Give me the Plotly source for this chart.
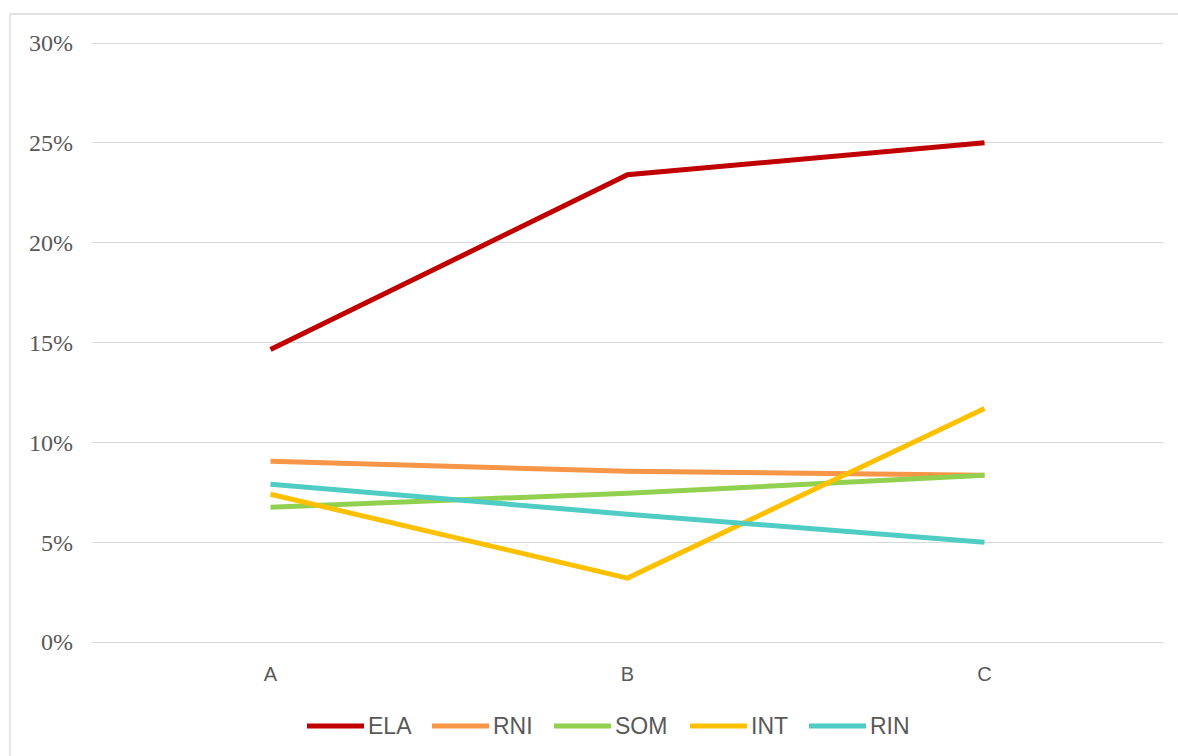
import plotly.graph_objects as go

# Categories and series (shares, in percent)
categories = ["A", "B", "C"]
series_names = ["ELA", "RNI", "SOM", "INT", "RIN"]
ela = [14.65, 23.4, 25.0]
rni = [9.05, 8.55, 8.35]
som = [6.75, 7.45, 8.35]
int_ = [7.4, 3.2, 11.7]
rin = [7.9, 6.4, 5.0]
y_ticks = [0, 5, 10, 15, 20, 25, 30]

series_values = [ela, rni, som, int_, rin]
colors = ["#C00000", "#F79646", "#92D050", "#FFC000", "#4FCDC4"]

W, H = 1178, 756
L, R, T, B = 92, 15, 41, 112
plot_w = W - L - R
plot_h = H - T - B


def px_x(x):
    return (x - L) / plot_w


def px_y(y):
    return (H - B - y) / plot_h


fig = go.Figure()
for name, vals, col in zip(series_names, series_values, colors):
    fig.add_trace(go.Scatter(
        x=categories, y=[v / 100 for v in vals], name=name, mode="lines",
        line=dict(color=col, width=5), showlegend=False,
    ))

# Legend row: long line swatch followed by the series label
legend_left = [307, 432, 554, 690, 809]
legend_y = px_y(726)
shapes = []
annotations = []
for name, col, x0 in zip(series_names, colors, legend_left):
    shapes.append(dict(type="line", xref="paper", yref="paper",
                       x0=px_x(x0), x1=px_x(x0 + 57), y0=legend_y, y1=legend_y,
                       line=dict(color=col, width=5)))
    annotations.append(dict(xref="paper", yref="paper", x=px_x(x0 + 59), y=legend_y,
                            text=name, showarrow=False, xanchor="left", yanchor="middle",
                            font=dict(family="Liberation Sans", size=23, color="#595959")))

# Chart-area frame
shapes.append(dict(type="rect", xref="paper", yref="paper",
                   x0=px_x(10), x1=px_x(1190), y0=px_y(14), y1=px_y(770),
                   line=dict(color="#D9D9D9", width=1.3), fillcolor="rgba(0,0,0,0)",
                   layer="below"))

fig.update_layout(
    width=W, height=H,
    margin=dict(l=L, r=R, t=T, b=B),
    paper_bgcolor="white", plot_bgcolor="white",
    shapes=shapes, annotations=annotations,
)
fig.update_xaxes(
    type="category", range=[-0.5, 2.5], showgrid=False, showline=False,
    zeroline=False, ticks="", ticklabelstandoff=16,
    tickfont_family="Liberation Sans", tickfont_size=20, tickfont_color="#595959",
)
fig.update_yaxes(
    range=[-0.001, 0.301], tickmode="array", tickvals=[t / 100 for t in y_ticks],
    ticktext=[f"{t}%" for t in y_ticks],
    showgrid=True, gridcolor="#D9D9D9", gridwidth=1.3,
    zeroline=False, showline=False, ticks="", ticklabelstandoff=18,
    tickfont_family="Liberation Serif", tickfont_size=24, tickfont_color="#595959",
)

fig.write_html("out.html")
